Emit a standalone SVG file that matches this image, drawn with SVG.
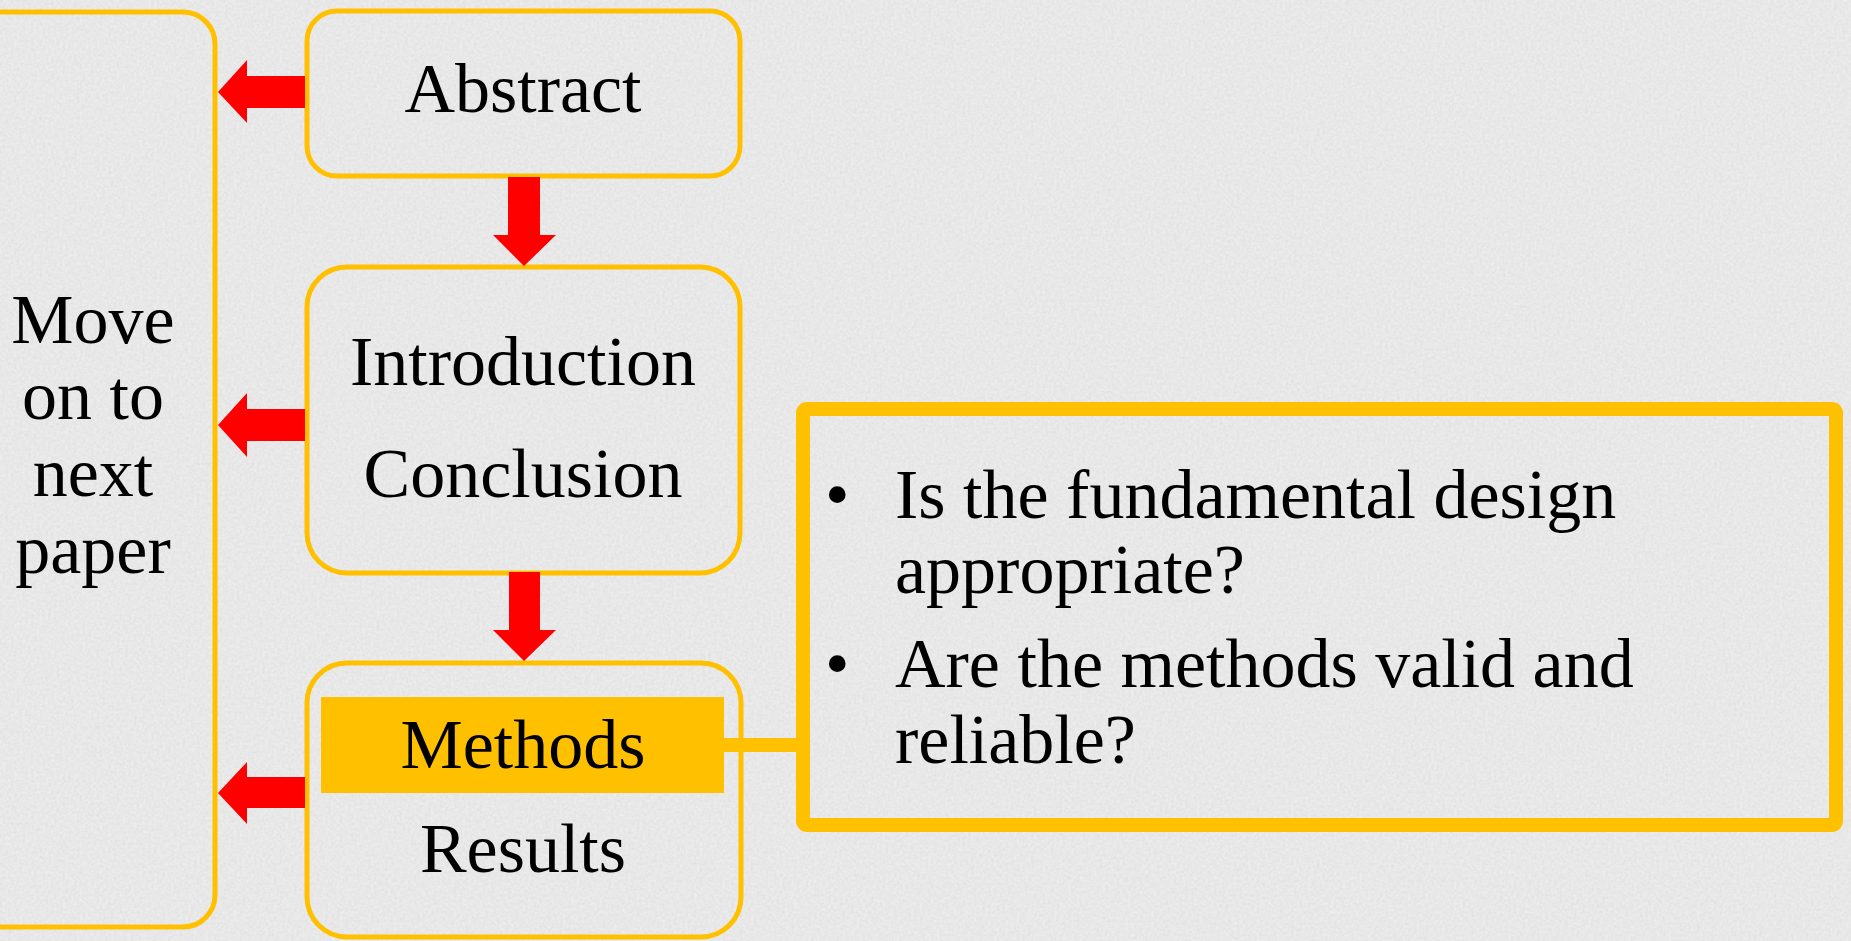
<svg xmlns="http://www.w3.org/2000/svg" width="1851" height="941" viewBox="0 0 1851 941">
<style>
.box{fill:none;stroke:#FFC000;stroke-width:5}
.t{font-family:"Liberation Serif","Times New Roman",serif;font-size:70px;fill:#000;text-anchor:middle}
.b{font-family:"Liberation Serif","Times New Roman",serif;font-size:70px;fill:#000}
.arr{fill:#FF0000}
</style>
<defs>
<filter id="paper" x="0" y="0" width="100%" height="100%">
<feTurbulence type="fractalNoise" baseFrequency="0.35" numOctaves="3" seed="4" result="n"/>
<feColorMatrix in="n" type="matrix" values="0 0 0 0 0.62  0 0 0 0 0.62  0 0 0 0 0.62  0 0 0 -1.3 0.95"/>
</filter>
</defs>
<rect width="1851" height="941" fill="#ececec"/>
<rect width="1851" height="941" filter="url(#paper)" opacity="0.45"/>
<g id="move-on">
<rect class="box" x="-30" y="12" width="245" height="915" rx="32"/>
<text class="t" x="93" y="343">Move</text>
<text class="t" x="93" y="419">on to</text>
<text class="t" x="93" y="496">next</text>
<text class="t" x="93" y="573">paper</text>
</g>
<g id="abstract">
<rect class="box" x="307" y="11" width="433" height="165" rx="30"/>
<text class="t" x="523" y="112">Abstract</text>
</g>
<g id="intro-conclusion">
<rect class="box" x="307" y="267" width="433" height="306" rx="40"/>
<text class="t" x="523" y="385">Introduction</text>
<text class="t" x="523" y="497">Conclusion</text>
</g>
<g id="methods-results">
<rect class="box" x="307" y="663" width="434" height="274" rx="40"/>
<rect x="321" y="697" width="403" height="96" fill="#FFC000"/>
<text class="t" x="523" y="768">Methods</text>
<text class="t" x="523" y="872">Results</text>
</g>
<g id="questions">
<rect x="803" y="409" width="1033" height="416" rx="4" fill="none" stroke="#FFC000" stroke-width="14"/>
<text class="b" x="825" y="518">•</text>
<text class="b" x="895" y="518">Is the fundamental design</text>
<text class="b" x="895" y="593">appropriate?</text>
<text class="b" x="825" y="687">•</text>
<text class="b" x="895" y="687">Are the methods valid and</text>
<text class="b" x="895" y="763">reliable?</text>
</g>
<g id="connectors">
<polygon class="arr" points="305,76 247,76 247,60 218,92 247,123 247,108 305,108"/>
<polygon class="arr" points="305,409 247,409 247,393 218,425 247,457 247,441 305,441"/>
<polygon class="arr" points="305,777 247,777 247,762 218,793 247,824 247,808 305,808"/>
<polygon class="arr" points="508,177 540,177 540,235 556,235 524,266 493,235 508,235"/>
<polygon class="arr" points="509,572 540,572 540,630 556,630 524,661 493,630 509,630"/>
<line x1="724" y1="745" x2="803" y2="745" stroke="#FFC000" stroke-width="14"/>
</g>
</svg>
